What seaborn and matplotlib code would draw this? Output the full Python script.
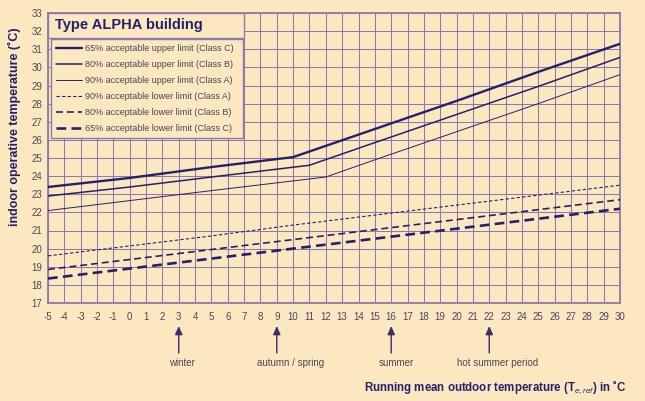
import matplotlib
matplotlib.use("Agg")
import matplotlib.pyplot as plt
import seaborn as sns
import pandas as pd
from matplotlib.patches import Rectangle
from matplotlib.lines import Line2D

# ---------------- data ----------------
x_upper_C = [-5, 0, 5, 10, 15, 20, 25, 30]
upper_C = [23.4, 23.9, 24.5, 25.05, 26.6, 28.15, 29.75, 31.3]
x_upper_B = [-5, 0, 5, 11, 15, 20, 25, 30]
upper_B = [22.9, 23.4, 23.95, 24.6, 25.85, 27.4, 28.95, 30.55]
x_upper_A = [-5, 0, 5, 12, 15, 20, 25, 30]
upper_A = [22.1, 22.65, 23.2, 23.95, 24.9, 26.45, 28.0, 29.6]
x_lower = [-5, 0, 5, 10, 15, 20, 25, 30]
lower_A = [19.6, 20.15, 20.7, 21.3, 21.85, 22.4, 22.95, 23.5]
lower_B = [18.85, 19.4, 19.95, 20.5, 21.05, 21.6, 22.15, 22.7]
lower_C = [18.35, 18.9, 19.45, 20.0, 20.55, 21.1, 21.65, 22.2]

series_labels = [
    "65% acceptable upper limit (Class C)",
    "80% acceptable upper limit (Class B)",
    "90% acceptable upper limit (Class A)",
    "90% acceptable lower limit (Class A)",
    "80% acceptable lower limit (Class B)",
    "65% acceptable lower limit (Class C)",
]
x_ticks = list(range(-5, 31))
y_ticks = list(range(17, 34))
season_x = [3, 9, 16, 22]
season_labels = ["winter", "autumn / spring", "summer", "hot summer period"]
title_text = "Type ALPHA building"
y_label = "indoor operative temperature (˚C)"
x_label = r"Running mean outdoor temperature (T$_{\mathit{e,ref}}$) in ˚C"

# ---------------- style ----------------
BG = "#FCE8C0"
GRID = "#8C7AAA"
NAVY = "#23216E"
TXT = "#4A4560"

sns.set_style("white")
plt.rcParams["font.family"] = ["Liberation Sans", "DejaVu Sans"]
plt.rcParams["axes.unicode_minus"] = False
plt.rcParams["lines.scale_dashes"] = False
plt.rcParams["mathtext.fontset"] = "custom"
plt.rcParams["mathtext.rm"] = "Liberation Sans"
plt.rcParams["mathtext.it"] = "Liberation Sans:italic"
plt.rcParams["mathtext.bf"] = "Liberation Sans:bold"

fig = plt.figure(figsize=(6.45, 4.01), dpi=100, facecolor=BG)
W, H = 645, 401
L, R, T, B = 48, 620, 13, 303
ax = fig.add_axes([L / W, 1 - B / H, (R - L) / W, (B - T) / H])
ax.set_facecolor(BG)

styles = [
    (x_upper_C, upper_C, 1.7, "-"),
    (x_upper_B, upper_B, 1.1, "-"),
    (x_upper_A, upper_A, 0.7, "-"),
    (x_lower, lower_A, 0.8, (0, (2.4, 1.6))),
    (x_lower, lower_B, 1.2, (0, (5.0, 2.8))),
    (x_lower, lower_C, 1.9, (0, (7.0, 3.8))),
]
handles = []
for (xs, ys, lw, ls), lab in zip(styles, series_labels):
    df = pd.DataFrame({"x": xs, "y": ys})
    sns.lineplot(data=df, x="x", y="y", ax=ax, color=NAVY, linewidth=lw,
                 linestyle=ls, zorder=3, legend=False)
    handles.append(Line2D([0], [0], color=NAVY, lw=lw, linestyle=ls))

ax.set_xlim(-5, 30)
ax.set_ylim(17, 33)
ax.set_xticks(x_ticks)
ax.set_yticks(y_ticks)
ax.set_xticklabels([str(v) for v in x_ticks])
ax.set_yticklabels([str(v) for v in y_ticks])
ax.grid(True, color=GRID, linewidth=0.75, zorder=1)
ax.set_axisbelow(True)
for s in ax.spines.values():
    s.set_color(GRID)
    s.set_linewidth(1.3)
ax.tick_params(axis="both", direction="out", length=2.5, width=0.8,
               color=GRID, labelcolor=TXT, labelsize=7)
ax.tick_params(axis="x", pad=4)
ax.tick_params(axis="y", pad=1.5)
ax.set_xlabel("")
ax.set_ylabel("")

def fy(py):
    return (B - py) / (B - T)

def fx(px):
    return (px - L) / (R - L)

# title box
ax.add_patch(Rectangle((0, fy(38)), fx(244), fy(T) - fy(38),
                       transform=ax.transAxes, facecolor=BG, edgecolor=GRID,
                       linewidth=1.0, zorder=5, clip_on=False))
ax.text(fx(55), fy(25.5), title_text, transform=ax.transAxes,
        ha="left", va="center", fontsize=10.5, fontweight="bold", color=NAVY,
        zorder=6)

# legend
leg = ax.legend(handles, series_labels, loc="upper left",
                bbox_to_anchor=(fx(51), fy(138), fx(243) - fx(51), fy(39) - fy(138)),
                mode="expand", borderaxespad=0, fontsize=6.5, frameon=True,
                fancybox=False, handlelength=2.9, handletextpad=0.3,
                labelspacing=0.78, borderpad=0.56, labelcolor=TXT)
fr = leg.get_frame()
fr.set_facecolor(BG)
fr.set_edgecolor(GRID)
fr.set_linewidth(1.0)
fr.set_alpha(1)
leg.set_zorder(6)

# season arrows
label_shift = [0.2, 0.85, 0.3, 0.5]
xt = ax.get_xaxis_transform()
for sx, sl, sh in zip(season_x, season_labels, label_shift):
    ax.annotate("", xy=(sx, fy(326)), xytext=(sx, fy(353)),
                xycoords=xt, textcoords=xt,
                arrowprops=dict(arrowstyle="-|>,head_length=0.5,head_width=0.22",
                                color="#3A2E6E", lw=1.0, shrinkA=0, shrinkB=0))
    ax.text(sx + sh, fy(363), sl, transform=xt, ha="center",
            va="center", fontsize=7, color=TXT)

# axis labels
ax.text(fx(626), fy(387), x_label, transform=ax.transAxes,
        ha="right", va="center", fontsize=8.3, fontweight="bold", color=NAVY)
fig.text(14 / W, 1 - 127 / H, y_label, rotation=90, ha="center", va="center",
         fontsize=9, fontweight="bold", color=NAVY)

fig.savefig("out.png", dpi=100, facecolor=BG)
